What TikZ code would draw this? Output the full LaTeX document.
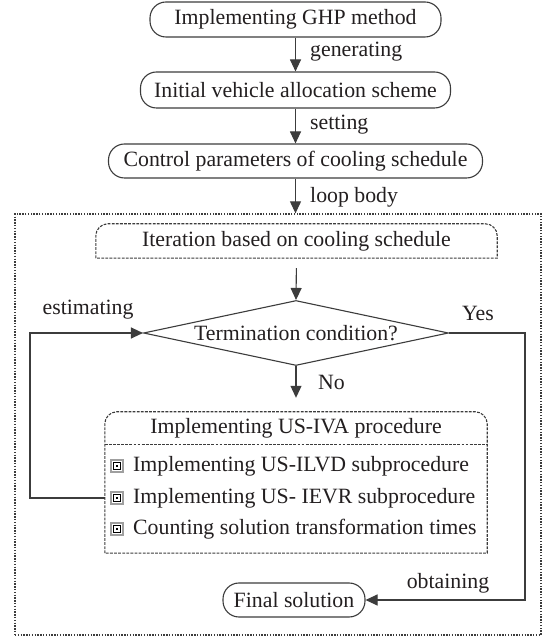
\documentclass[tikz,border=0pt]{standalone}
\usepackage{fontspec}
\setmainfont{Liberation Serif}
\usetikzlibrary{arrows.meta,shapes.geometric,calc}
\definecolor{ln}{HTML}{3C3C3C}
\definecolor{tx}{HTML}{231F20}
\begin{document}
\begin{tikzpicture}[x=1pt,y=1pt, font=\fontsize{21.8}{25}\selectfont, text=tx,
  pill/.style={draw=ln, line width=1.1pt, rounded corners=16pt, inner sep=0pt},
  arr/.style={draw=ln, line width=1.1pt, -{Triangle[length=12pt,width=11pt]}},
  lbl/.style={anchor=west, inner sep=0pt},
  frm/.style={draw=ln, line width=1.3pt, dash pattern=on 1.4pt off 1.4pt},
  dsh/.style={draw=ln, line width=1.1pt, dash pattern=on 2.8pt off 1.3pt},
  icon/.pic={
    \draw[gray!75, line width=1.8pt] (-5.8,-5.8) rectangle (5.8,5.8);
    \draw[black, line width=0.8pt] (-3.4,-3.4) rectangle (3.4,3.4);
    \fill[black] (-1.4,-1.4) rectangle (1.4,1.4);
  }]
\useasboundingbox (0,0) rectangle (548,640);
\fill[white] (0,0) rectangle (548,640);

% top chain
\node[pill, minimum width=291pt, minimum height=35pt] (b1) at (295.5,620.5) {Implementing GHP method};
\node[pill, minimum width=310pt, minimum height=36pt] (b2) at (295.5,550) {Initial vehicle allocation scheme};
\node[pill, minimum width=374pt, minimum height=34pt] (b3) at (295.5,479) {Control parameters of cooling schedule};

% outer frame
\node[frm, minimum width=526pt, minimum height=421pt, inner sep=0pt] (frame) at (278,215.5) {};

\draw[arr] (b1.south) -- (b2.north);
\draw[arr] (b2.south) -- (b3.north);
\draw[arr] (b3.south) -- (b3.south |- frame.north);
\node[lbl] (l1) at (310,588) {generating};
\node[lbl] (l2) at (310,515) {setting};
\node[lbl] (l3) at (310,443) {loop body};

% iteration box
\node[minimum width=401pt, minimum height=34pt, inner sep=0pt] (it) at (296.5,399) {Iteration based on cooling schedule};
\draw[dsh] (it.south west) -- ($(it.north west)+(0,-12)$) arc[start angle=180,end angle=90,radius=12pt]
  -- ($(it.north east)+(-12,0)$) arc[start angle=90,end angle=0,radius=12pt] -- (it.south east) -- cycle;

% decision
\node[diamond, draw=ln, line width=1.1pt, minimum width=305pt, minimum height=65pt, aspect=4.7, inner sep=0pt] (dia) at (296,307) {Termination condition?};
\draw[arr, shorten <=10pt] (it.south) -- (dia.north);

% US-IVA box
\node[minimum width=382pt, minimum height=141pt, inner sep=0pt] (iva) at (296,157.5) {};
\draw[dsh] (iva.south west) -- ($(iva.north west)+(0,-12)$) arc[start angle=180,end angle=90,radius=12pt]
  -- ($(iva.north east)+(-12,0)$) arc[start angle=90,end angle=0,radius=12pt] -- (iva.south east) -- cycle;
\draw[dsh] ($(iva.north west)+(0,-33)$) -- ($(iva.north east)+(0,-33)$);
\node (ivah) at (296,212) {Implementing US-IVA procedure};
\node[lbl] (i1) at (133,174) {Implementing US-ILVD subprocedure};
\node[lbl] (i2) at (133,142) {Implementing US- IEVR subprocedure};
\node[lbl] (i3) at (133,111) {Counting solution transformation times};
\pic at (117,174) {icon};
\pic at (117,142) {icon};
\pic at (117,111) {icon};

\draw[arr, shorten >=14pt] (dia.south) -- (iva.north);
\node[lbl] (lno) at (318,258) {No};

% final
\node[pill, minimum width=142pt, minimum height=34pt] (fin) at (294,40) {Final solution};

% loops
\coordinate (lx) at (30,142);
\coordinate (rx) at (525,307);
\draw[arr] (iva.west |- i2.west) -- (lx) |- (dia.west);
\draw[arr] (dia.east) -- (rx) |- (fin.east);

\node (lest) at (88,330) {estimating};
\node (lyes) at (478,327) {Yes};
\node (lobt) at (448,57) {obtaining};
\end{tikzpicture}
\end{document}
